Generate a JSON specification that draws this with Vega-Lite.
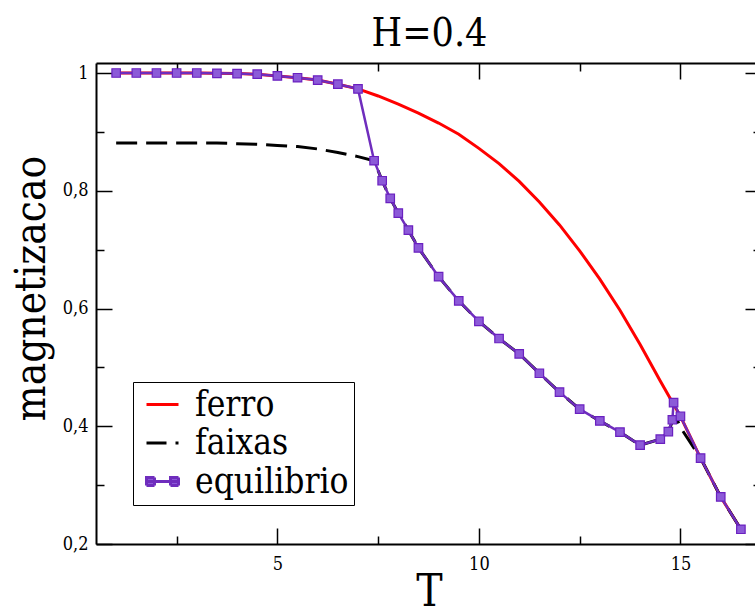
{
  "$schema": "https://vega.github.io/schema/vega-lite/v6.json",
  "autosize": "none",
  "width": 659,
  "height": 481,
  "padding": {"left": 96, "top": 63, "right": 0, "bottom": 62},
  "background": "white",
  "config": {
    "view": {"stroke": null},
    "axis": {"grid": false, "labelFont": "DejaVu Serif Condensed, DejaVu Serif", "labelFontSize": 18, "labelColor": "black", "tickColor": "black", "domainColor": "black", "tickWidth": 1.5, "domainWidth": 2, "titleFont": "DejaVu Serif Condensed, DejaVu Serif", "titleFontWeight": "normal", "titleColor": "black"}
  },
  "datasets": {
    "d": [
      {"s": "ferro", "T": 1, "m": 1.0}, {"s": "ferro", "T": 1.5, "m": 1.0}, {"s": "ferro", "T": 2, "m": 1.0}, {"s": "ferro", "T": 2.5, "m": 1.0}, {"s": "ferro", "T": 3, "m": 1.0}, {"s": "ferro", "T": 3.5, "m": 0.9995}, {"s": "ferro", "T": 4, "m": 0.999}, {"s": "ferro", "T": 4.5, "m": 0.998}, {"s": "ferro", "T": 5, "m": 0.995}, {"s": "ferro", "T": 5.5, "m": 0.992}, {"s": "ferro", "T": 6, "m": 0.988}, {"s": "ferro", "T": 6.5, "m": 0.981}, {"s": "ferro", "T": 7, "m": 0.973}, {"s": "ferro", "T": 7.5, "m": 0.961}, {"s": "ferro", "T": 8, "m": 0.947}, {"s": "ferro", "T": 8.5, "m": 0.932}, {"s": "ferro", "T": 9, "m": 0.915}, {"s": "ferro", "T": 9.5, "m": 0.896}, {"s": "ferro", "T": 10, "m": 0.872}, {"s": "ferro", "T": 10.5, "m": 0.846}, {"s": "ferro", "T": 11, "m": 0.816}, {"s": "ferro", "T": 11.5, "m": 0.781}, {"s": "ferro", "T": 12, "m": 0.742}, {"s": "ferro", "T": 12.5, "m": 0.698}, {"s": "ferro", "T": 13, "m": 0.65}, {"s": "ferro", "T": 13.5, "m": 0.597}, {"s": "ferro", "T": 14, "m": 0.539}, {"s": "ferro", "T": 14.5, "m": 0.477}, {"s": "ferro", "T": 14.85, "m": 0.435}, {"s": "ferro", "T": 15, "m": 0.417}, {"s": "ferro", "T": 15.5, "m": 0.346}, {"s": "ferro", "T": 16, "m": 0.28}, {"s": "ferro", "T": 16.5, "m": 0.225},
      {"s": "faixas", "T": 1, "m": 0.881}, {"s": "faixas", "T": 2, "m": 0.881}, {"s": "faixas", "T": 3, "m": 0.881}, {"s": "faixas", "T": 3.5, "m": 0.881}, {"s": "faixas", "T": 4, "m": 0.88}, {"s": "faixas", "T": 4.5, "m": 0.879}, {"s": "faixas", "T": 5, "m": 0.877}, {"s": "faixas", "T": 5.5, "m": 0.875}, {"s": "faixas", "T": 6, "m": 0.871}, {"s": "faixas", "T": 6.5, "m": 0.865}, {"s": "faixas", "T": 7, "m": 0.858}, {"s": "faixas", "T": 7.4, "m": 0.851}, {"s": "faixas", "T": 7.6, "m": 0.817}, {"s": "faixas", "T": 7.8, "m": 0.787}, {"s": "faixas", "T": 8, "m": 0.762}, {"s": "faixas", "T": 8.25, "m": 0.733}, {"s": "faixas", "T": 8.5, "m": 0.703}, {"s": "faixas", "T": 9, "m": 0.654}, {"s": "faixas", "T": 9.5, "m": 0.613}, {"s": "faixas", "T": 10, "m": 0.578}, {"s": "faixas", "T": 10.5, "m": 0.549}, {"s": "faixas", "T": 11, "m": 0.523}, {"s": "faixas", "T": 11.5, "m": 0.49}, {"s": "faixas", "T": 12, "m": 0.458}, {"s": "faixas", "T": 12.5, "m": 0.429}, {"s": "faixas", "T": 13, "m": 0.409}, {"s": "faixas", "T": 13.5, "m": 0.39}, {"s": "faixas", "T": 14, "m": 0.368}, {"s": "faixas", "T": 14.5, "m": 0.378}, {"s": "faixas", "T": 14.7, "m": 0.391}, {"s": "faixas", "T": 14.8, "m": 0.408}, {"s": "faixas", "T": 14.9, "m": 0.414}, {"s": "faixas", "T": 15, "m": 0.398}, {"s": "faixas", "T": 15.5, "m": 0.346}, {"s": "faixas", "T": 16, "m": 0.28}, {"s": "faixas", "T": 16.5, "m": 0.225},
      {"s": "equilibrio", "T": 1, "m": 1.0}, {"s": "equilibrio", "T": 1.5, "m": 1.0}, {"s": "equilibrio", "T": 2, "m": 1.0}, {"s": "equilibrio", "T": 2.5, "m": 1.0}, {"s": "equilibrio", "T": 3, "m": 1.0}, {"s": "equilibrio", "T": 3.5, "m": 0.9995}, {"s": "equilibrio", "T": 4, "m": 0.999}, {"s": "equilibrio", "T": 4.5, "m": 0.998}, {"s": "equilibrio", "T": 5, "m": 0.995}, {"s": "equilibrio", "T": 5.5, "m": 0.992}, {"s": "equilibrio", "T": 6, "m": 0.988}, {"s": "equilibrio", "T": 6.5, "m": 0.981}, {"s": "equilibrio", "T": 7, "m": 0.973}, {"s": "equilibrio", "T": 7.4, "m": 0.851}, {"s": "equilibrio", "T": 7.6, "m": 0.817}, {"s": "equilibrio", "T": 7.8, "m": 0.787}, {"s": "equilibrio", "T": 8, "m": 0.762}, {"s": "equilibrio", "T": 8.25, "m": 0.733}, {"s": "equilibrio", "T": 8.5, "m": 0.703}, {"s": "equilibrio", "T": 9, "m": 0.654}, {"s": "equilibrio", "T": 9.5, "m": 0.613}, {"s": "equilibrio", "T": 10, "m": 0.578}, {"s": "equilibrio", "T": 10.5, "m": 0.549}, {"s": "equilibrio", "T": 11, "m": 0.523}, {"s": "equilibrio", "T": 11.5, "m": 0.49}, {"s": "equilibrio", "T": 12, "m": 0.458}, {"s": "equilibrio", "T": 12.5, "m": 0.429}, {"s": "equilibrio", "T": 13, "m": 0.409}, {"s": "equilibrio", "T": 13.5, "m": 0.39}, {"s": "equilibrio", "T": 14, "m": 0.368}, {"s": "equilibrio", "T": 14.5, "m": 0.378}, {"s": "equilibrio", "T": 14.7, "m": 0.391}, {"s": "equilibrio", "T": 14.8, "m": 0.411}, {"s": "equilibrio", "T": 14.83, "m": 0.44}, {"s": "equilibrio", "T": 15, "m": 0.417}, {"s": "equilibrio", "T": 15.5, "m": 0.346}, {"s": "equilibrio", "T": 16, "m": 0.28}, {"s": "equilibrio", "T": 16.5, "m": 0.225}
    ]
  },
  "data": {"name": "d"},
  "resolve": {"axis": {"x": "independent", "y": "independent"}},
  "layer": [
    {
      "transform": [{"filter": "datum.s === 'ferro'"}],
      "mark": {"type": "line", "strokeWidth": 3},
      "encoding": {
        "x": {"field": "T", "type": "quantitative", "scale": {"domain": [0.5, 16.85], "nice": false, "zero": false},
          "axis": {"orient": "bottom", "values": [5, 10, 15], "tickSize": -16, "labelPadding": 27, "labelBaseline": "top", "title": "T", "titleFontSize": 44, "titleX": 333, "titleY": 61, "titleBaseline": "alphabetic", "titleAnchor": "middle"}},
        "y": {"field": "m", "type": "quantitative", "scale": {"domain": [0.2, 1.017], "nice": false, "zero": false},
          "axis": {"orient": "left", "values": [0.2, 0.4, 0.6, 0.8, 1], "tickSize": -16, "labelPadding": 24, "labelExpr": "replace(format(datum.value, '.1~f'), '.', ',')", "title": "magnetizacao", "titleFontSize": 42, "titleAngle": -90, "titleX": -52, "titleY": 225, "titleBaseline": "alphabetic", "titleAlign": "center"}},
        "color": {"field": "s", "type": "nominal",
          "scale": {"domain": ["ferro", "faixas", "equilibrio"], "range": ["#ff0000", "#000000", "#6f2dbd"]},
          "legend": {"orient": "none", "legendX": 37, "legendY": 319, "title": null, "symbolType": "stroke", "symbolSize": 1024, "symbolStrokeWidth": 3, "labelFont": "DejaVu Serif Condensed, DejaVu Serif", "labelFontSize": 35, "labelColor": "black", "labelOffset": 15, "padding": 5, "symbolOffset": 7, "strokeColor": "black", "fillColor": "white", "rowPadding": 2.5,
            "encode": {"symbols": {"update": {
              "shape": {"signal": "datum.value === 'equilibrio' ? 'M-1,0H1M-1,-0.25H-0.5V0.25H-1ZM0.5,-0.25H1V0.25H0.5Z' : 'stroke'"},
              "strokeDash": {"signal": "datum.value === 'faixas' ? [20, 9] : [1, 0]"},
              "fill": {"signal": "datum.value === 'equilibrio' ? '#8c5ad8' : 'transparent'"}
            }}}}}
      }
    },
    {
      "transform": [{"filter": "datum.s === 'faixas'"}],
      "mark": {"type": "line", "strokeWidth": 3, "strokeDash": [21, 9]},
      "encoding": {
        "x": {"field": "T", "type": "quantitative", "axis": {"orient": "bottom", "values": [2.5, 7.5, 12.5], "tickSize": -8, "labels": false, "domain": false, "title": null}},
        "y": {"field": "m", "type": "quantitative", "axis": {"orient": "left", "values": [0.3, 0.5, 0.7, 0.9], "tickSize": -8, "labels": false, "domain": false, "title": null}},
        "color": {"field": "s", "type": "nominal"}
      }
    },
    {
      "transform": [{"filter": "datum.s === 'equilibrio'"}],
      "mark": {"type": "line", "strokeWidth": 2.5},
      "encoding": {
        "x": {"field": "T", "type": "quantitative", "axis": {"orient": "top", "values": [5, 10, 15], "tickSize": -16, "labels": false, "domain": true, "title": "H=0.4", "titleFontSize": 39, "titleX": 333, "titleY": -18, "titleBaseline": "alphabetic", "titleAnchor": "middle", "titleAlign": "center"}},
        "y": {"field": "m", "type": "quantitative", "axis": {"orient": "right", "values": [0.2, 0.4, 0.6, 0.8, 1], "tickSize": -16, "offset": 6, "labels": false, "domain": false, "title": null}},
        "color": {"field": "s", "type": "nominal"}
      }
    },
    {
      "transform": [{"filter": "datum.s === 'equilibrio'"}],
      "mark": {"type": "point", "shape": "square", "size": 72, "filled": true, "fill": "#8c5ad8", "stroke": "#6a20c0", "strokeWidth": 1.2, "opacity": 1},
      "encoding": {
        "x": {"field": "T", "type": "quantitative", "axis": {"orient": "top", "values": [2.5, 7.5, 12.5], "tickSize": -8, "labels": false, "domain": false, "title": null}},
        "y": {"field": "m", "type": "quantitative", "axis": {"orient": "right", "values": [0.3, 0.5, 0.7, 0.9], "tickSize": -8, "offset": 6, "labels": false, "domain": false, "title": null}}
      }
    }
  ]
}
